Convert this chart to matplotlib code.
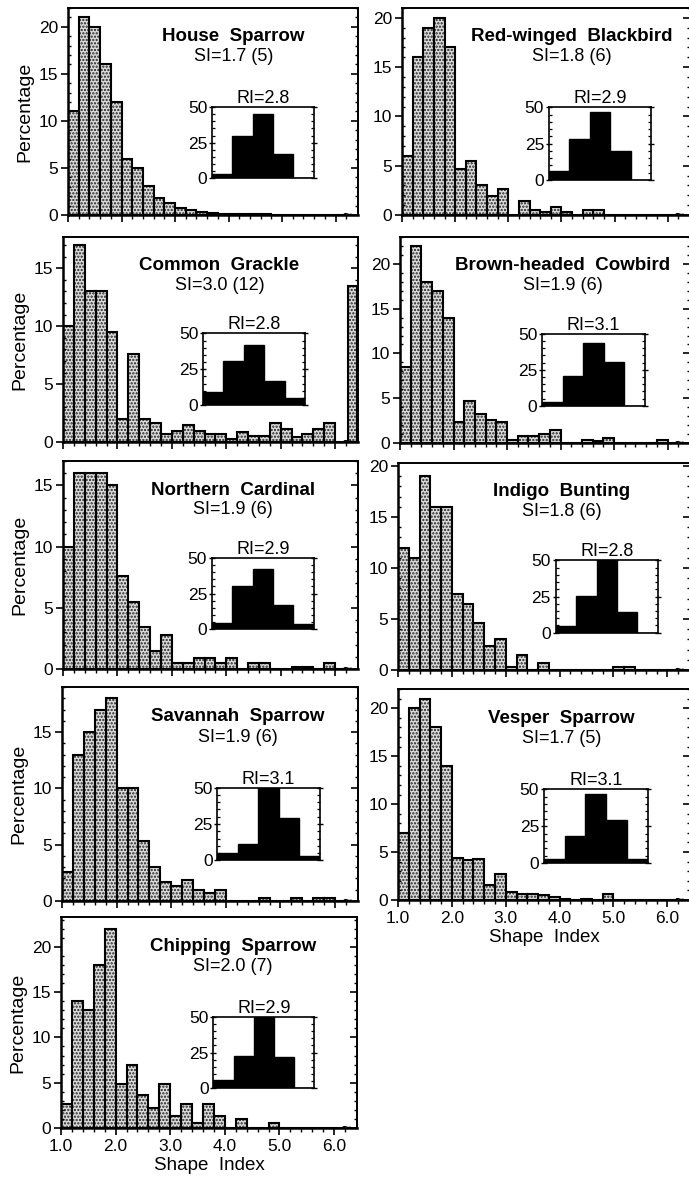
import numpy as np
import matplotlib
matplotlib.use('Agg')
import matplotlib.pyplot as plt
from matplotlib.ticker import MultipleLocator

plt.rcParams['font.family'] = ['Liberation Sans', 'DejaVu Sans']
plt.rcParams['hatch.linewidth'] = 1.1

# Data: percentage of patches per shape-index bin (1.0-6.2, width 0.2)
bin_left = np.arange(1.0, 6.2, 0.2)

species = ['House  Sparrow', 'Red-winged  Blackbird', 'Common  Grackle',
           'Brown-headed  Cowbird', 'Northern  Cardinal', 'Indigo  Bunting',
           'Savannah  Sparrow', 'Vesper  Sparrow', 'Chipping  Sparrow']
si_text = ['SI=1.7 (5)', 'SI=1.8 (6)', 'SI=3.0 (12)', 'SI=1.9 (6)', 'SI=1.9 (6)',
           'SI=1.8 (6)', 'SI=1.9 (6)', 'SI=1.7 (5)', 'SI=2.0 (7)']
ri_text = ['RI=2.8', 'RI=2.9', 'RI=2.8', 'RI=3.1', 'RI=2.9',
           'RI=2.8', 'RI=3.1', 'RI=3.1', 'RI=2.9']
x_ticks = [1, 2, 3, 4, 5, 6]
x_ticklabels = ['1.0', '2.0', '3.0', '4.0', '5.0', '6.0']

house = [11, 21, 20, 16, 12, 6, 5, 3.1, 1.8, 1.3, 0.7, 0.5, 0.35, 0.2, 0.15, 0.1,
         0.1, 0.1, 0.1, 0.05, 0, 0, 0, 0, 0, 0]
redwing = [6, 16, 19, 20, 17, 4.7, 5.5, 3.0, 1.9, 2.6, 0, 1.4, 0.5, 0.3, 0.8, 0.3,
           0, 0.5, 0.5, 0, 0, 0, 0, 0, 0, 0]
grackle = [10, 17, 13, 13, 9.5, 2.0, 7.6, 2.0, 1.6, 0.7, 0.95, 1.5, 0.95, 0.7, 0.7, 0.3,
           0.9, 0.5, 0.5, 1.6, 1.15, 0.4, 0.65, 1.15, 1.6, 0]
cowbird = [8.5, 22, 18, 17, 14, 2.4, 4.7, 3.2, 2.6, 2.4, 0.3, 0.75, 0.75, 1.0, 1.5, 0,
           0, 0.3, 0.2, 0.6, 0, 0, 0, 0, 0.3, 0]
cardinal = [10, 16, 16, 16, 15, 7.6, 5.5, 3.4, 1.45, 2.8, 0.45, 0.45, 0.9, 0.9, 0.45, 0.9,
            0, 0.45, 0.45, 0, 0, 0.2, 0.2, 0, 0.45, 0]
indigo = [12, 11, 19, 16, 16, 7.5, 6.5, 4.6, 2.4, 3.0, 0.25, 1.5, 0, 0.7, 0, 0,
          0, 0, 0, 0, 0.3, 0.3, 0, 0, 0, 0]
savannah = [2.6, 13, 15, 17, 18, 10, 10, 5.3, 3.0, 1.7, 1.3, 1.9, 0.95, 0.7, 0.95, 0,
            0, 0, 0.3, 0, 0, 0.3, 0, 0.3, 0.3, 0]
vesper = [7, 20, 21, 18, 14, 4.4, 4.2, 4.25, 1.55, 2.7, 0.85, 0.6, 0.6, 0.5, 0.3, 0.1,
          0, 0.15, 0, 0.6, 0, 0, 0, 0, 0, 0]
chipping = [2.7, 14, 13, 18, 22, 4.9, 7, 3.6, 2.2, 4.9, 1.35, 2.65, 0.5, 2.65, 1.35, 0,
            1.0, 0, 0, 0.5, 0, 0, 0, 0, 0, 0]
# overflow bin (beyond the axis break at 6.2)
overflow = [0, 0, 13.5, 0, 0, 0, 0, 0, 0]

# Inset: regularity index classes 1-5 (percent)
ri_classes = [1, 2, 3, 4, 5]
house_ri = [3, 30, 45, 17, 0]
redwing_ri = [6, 28, 47, 20, 0]
grackle_ri = [9, 31, 42, 17, 5]
cowbird_ri = [2.5, 20.5, 43.5, 30.5, 0]
cardinal_ri = [4.6, 30, 42, 17.4, 4]
indigo_ri = [4.5, 25.5, 56, 14, 0]
savannah_ri = [5, 11.5, 51, 29, 3]
vesper_ri = [3, 18, 47, 29, 3]
chipping_ri = [5.3, 22.6, 50, 22, 0]

shape_data = [house, redwing, grackle, cowbird, cardinal, indigo, savannah, vesper, chipping]
ri_data = [house_ri, redwing_ri, grackle_ri, cowbird_ri, cardinal_ri, indigo_ri,
           savannah_ri, vesper_ri, chipping_ri]

# Layout (pixel boxes: left, right, top, bottom) and per-panel y max
W, H = 689, 1185
boxes = [(68, 358, 8, 215), (402, 690, 8, 215),
         (63, 358, 237, 442), (400, 690, 237, 443),
         (63, 358, 461, 669), (398, 690, 463, 670),
         (62, 358, 687, 901), (398, 690, 689, 900),
         (61, 357, 917, 1128)]
ymax = [22, 21, 17.7, 23, 17, 20.3, 19, 22, 23.3]
title_x = [0.57, 0.59, 0.53, 0.56, 0.575, 0.56, 0.595, 0.56, 0.58]
inset_pos = [(0.497, 0.18, 0.35, 0.34), (0.51, 0.17, 0.355, 0.35),
             (0.475, 0.18, 0.345, 0.35), (0.49, 0.18, 0.355, 0.35),
             (0.505, 0.19, 0.345, 0.345), (0.54, 0.18, 0.35, 0.35),
             (0.525, 0.19, 0.345, 0.34), (0.50, 0.175, 0.355, 0.35),
             (0.515, 0.19, 0.34, 0.335)]

fig = plt.figure(figsize=(W / 100, H / 100), dpi=100)


def stipple_bar(ax, x, h, w):
    ax.bar(x, h, width=w, align='edge', color='#dcdcdc',
           edgecolor='#222222', hatch='.....', linewidth=0)
    ax.bar(x, h, width=w, align='edge', fill=False,
           edgecolor='black', linewidth=1.5)


for i in range(9):
    l, r, t, b = boxes[i]
    ax = fig.add_axes([l / W, 1 - b / H, (r - l) / W, (b - t) / H])
    stipple_bar(ax, bin_left, shape_data[i], 0.2)
    if overflow[i] > 0:
        stipple_bar(ax, 6.23, overflow[i], 0.17)

    ax.set_xlim(1.0, 6.42)
    ax.set_ylim(0, ymax[i])
    for s in ax.spines.values():
        s.set_linewidth(1.4)
    ax.spines['left'].set_linewidth(1.8)
    ax.spines['bottom'].set_linewidth(1.8)

    ax.set_xticks(x_ticks)
    ax.set_xticks(np.arange(1.0, 6.21, 0.2), minor=True)
    ax.tick_params(axis='x', which='major', direction='out', length=5, width=1.2,
                   labelsize=12.5, pad=3)
    ax.tick_params(axis='x', which='minor', direction='out', length=3, width=1.0)
    if i in (7, 8):
        ax.set_xticklabels(x_ticklabels)
        ax.set_xlabel('Shape  Index', fontsize=13.5, labelpad=2)
    else:
        ax.tick_params(axis='x', labelbottom=False)

    ax.yaxis.set_major_locator(MultipleLocator(5))
    ax.yaxis.set_minor_locator(MultipleLocator(1))
    ax.tick_params(axis='y', which='major', direction='out', length=5, width=1.2,
                   labelsize=12.5, pad=2)
    ax.tick_params(axis='y', which='minor', direction='in', length=2.5, width=1.0)
    sec = ax.secondary_yaxis('right')
    sec.yaxis.set_major_locator(MultipleLocator(5))
    sec.yaxis.set_minor_locator(MultipleLocator(1))
    sec.tick_params(which='major', direction='in', length=5, width=1.2, labelright=False)
    sec.tick_params(which='minor', direction='in', length=2.5, width=1.0)
    sec.spines['right'].set_linewidth(1.4)

    if l < 200:
        ax.set_ylabel('Percentage', fontsize=14, labelpad=4)

    # axis break mark
    ax.text(6.22, 0, '~', ha='center', va='center', fontsize=11, fontweight='bold',
            clip_on=False)

    ax.text(title_x[i], 0.86, species[i], transform=ax.transAxes, ha='center',
            va='center', fontsize=13.5, fontweight='bold')
    ax.text(title_x[i], 0.765, si_text[i], transform=ax.transAxes, ha='center',
            va='center', fontsize=13)

    ins = ax.inset_axes(inset_pos[i])
    ins.bar(ri_classes, ri_data[i], width=1.0, color='black', edgecolor='black')
    ins.set_xlim(0.5, 5.5)
    ins.set_ylim(0, 50)
    ins.set_xticks([])
    ins.set_yticks([0, 25, 50])
    ins.yaxis.set_minor_locator(MultipleLocator(5))
    ins.tick_params(axis='y', which='major', direction='inout', length=5, width=1.0,
                    labelsize=12.5, pad=1, right=True)
    ins.tick_params(axis='y', which='minor', direction='in', length=2.5, width=0.9,
                    right=True)
    for s in ins.spines.values():
        s.set_linewidth(1.2)
    ins.set_title(ri_text[i], fontsize=13, pad=1)

fig.savefig('out.png', dpi=100)
